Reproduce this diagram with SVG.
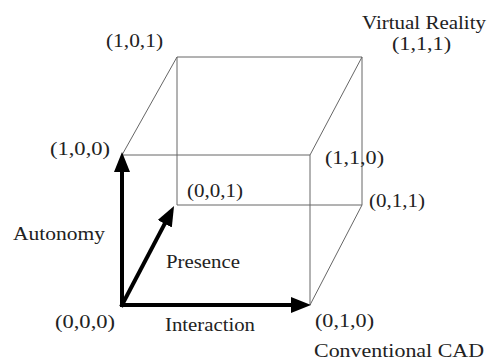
<svg xmlns="http://www.w3.org/2000/svg" width="487" height="360" viewBox="0 0 487 360">
<style>
.t{font-size:19px;fill:#222}
.e{stroke:#666;stroke-width:1;fill:none}
.a{stroke:#000;stroke-width:4;fill:none;stroke-linecap:square}
</style>
<defs>
<marker id="ah" viewBox="0 0 5 4" markerWidth="5" markerHeight="4" refX="1" refY="2" orient="auto" markerUnits="strokeWidth">
<path d="M0,0 L5,2 L0,4 z" fill="#000"/>
</marker>
</defs>
<rect width="487" height="360" fill="#fff"/>
<g id="connectors">
<path class="e" d="M177,57 H362 V205 H177 Z"/>
<path class="e" d="M122,155 H310 V305"/>
<path class="e" d="M122,155 L177,57"/>
<path class="e" d="M310,155 L362,57"/>
<path class="e" d="M310,305 L362,205"/>
<line id="autonomy-axis" class="a" x1="122" y1="305" x2="122" y2="168" marker-end="url(#ah)"/>
<line id="interaction-axis" class="a" x1="122" y1="305" x2="295" y2="305" marker-end="url(#ah)"/>
<line id="presence-axis" class="a" x1="122" y1="305" x2="166.6" y2="220.2" marker-end="url(#ah)"/>
</g>
<g font-family="Liberation Serif, DejaVu Serif, serif">
<g id="n101"><text class="t" x="106" y="47" textLength="57" lengthAdjust="spacingAndGlyphs">(1,0,1)</text></g>
<g id="n111">
<text class="t" x="362" y="29" textLength="124" lengthAdjust="spacingAndGlyphs">Virtual Reality</text>
<text class="t" x="392" y="50" textLength="59" lengthAdjust="spacingAndGlyphs">(1,1,1)</text>
</g>
<g id="n100"><text class="t" x="50" y="155" textLength="60" lengthAdjust="spacingAndGlyphs">(1,0,0)</text></g>
<g id="n110"><text class="t" x="325" y="164" textLength="59" lengthAdjust="spacingAndGlyphs">(1,1,0)</text></g>
<g id="n001"><text class="t" x="187" y="197" textLength="56" lengthAdjust="spacingAndGlyphs">(0,0,1)</text></g>
<g id="n011"><text class="t" x="369" y="207" textLength="56" lengthAdjust="spacingAndGlyphs">(0,1,1)</text></g>
<g id="autonomy"><text class="t" x="13" y="240" textLength="92" lengthAdjust="spacingAndGlyphs">Autonomy</text></g>
<g id="presence"><text class="t" x="166" y="268" textLength="74" lengthAdjust="spacingAndGlyphs">Presence</text></g>
<g id="n000"><text class="t" x="55" y="328" textLength="60" lengthAdjust="spacingAndGlyphs">(0,0,0)</text></g>
<g id="interaction"><text class="t" x="165" y="331" textLength="90" lengthAdjust="spacingAndGlyphs">Interaction</text></g>
<g id="n010">
<text class="t" x="315" y="327" textLength="59" lengthAdjust="spacingAndGlyphs">(0,1,0)</text>
<text class="t" x="314" y="357" textLength="170" lengthAdjust="spacingAndGlyphs">Conventional CAD</text>
</g>
</g>
</svg>
